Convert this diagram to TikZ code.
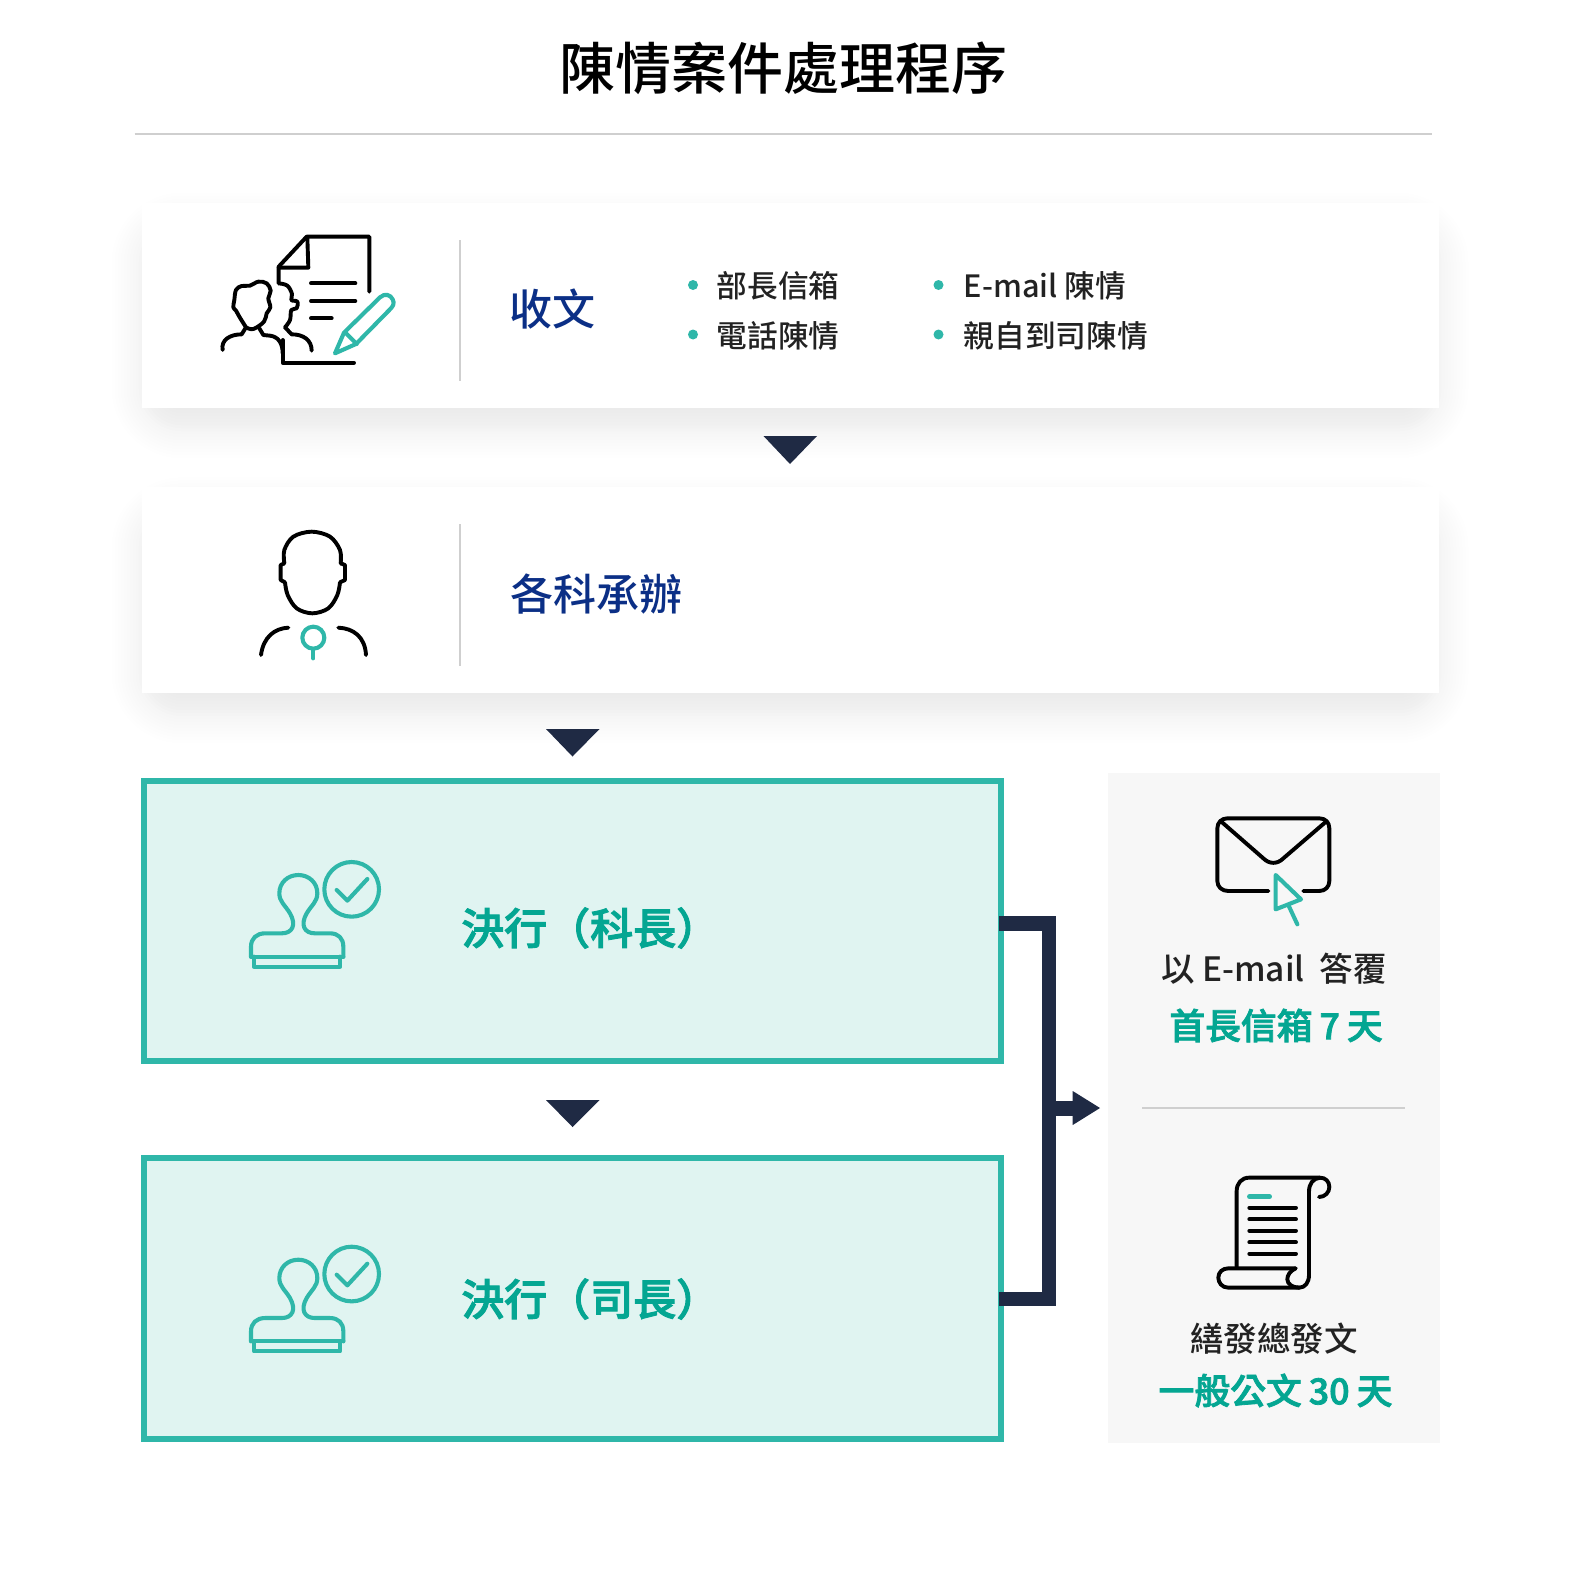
\documentclass[tikz,border=0pt]{standalone}
\usepackage{fontspec}
\setmainfont{Noto Sans CJK TC}
\newfontfamily\cjkmed{Noto Sans CJK TC Medium}
\newfontfamily\cjkmb[FakeBold=2.2]{Noto Sans CJK TC Medium}
\usetikzlibrary{calc}
\definecolor{teal1}{HTML}{2FB7A9}
\definecolor{tealtxt}{HTML}{04A692}
\definecolor{greenfill}{HTML}{E0F4F1}
\definecolor{navy}{HTML}{0B2F86}
\definecolor{darkc}{HTML}{1F2A44}
\definecolor{rulec}{HTML}{CFCFCF}
\definecolor{panelc}{HTML}{F7F7F7}
\definecolor{txtc}{HTML}{222222}
\newcommand{\fs}[1]{\fontsize{#1pt}{#1pt}\selectfont}
\newcommand{\nsp}{\hspace{7pt}}
\tikzset{
  zoomed/.style 2 args={shift={(#1pt,-#2pt)},x=.33333pt,y=-.33333pt},
  card/.style={fill=white,inner sep=0,outer sep=0,minimum width=1296.8pt,minimum height=205.7pt,anchor=north west},
  greenbox/.style={draw=teal1,fill=greenfill,line width=6pt,inner sep=0,outer sep=0,minimum width=856.5pt,minimum height=280pt,anchor=north west},
  panel/.style={fill=panelc,inner sep=0,outer sep=0,minimum width=332pt,minimum height=670pt,anchor=north west},
  blk/.style={draw=black,line width=3.9pt,line cap=round,line join=round},
  tl/.style={draw=teal1,line width=4.1pt,line cap=round,line join=round},
  hrule/.style={draw=rulec,line width=1.4pt},
  tri/.style={fill=darkc},
  dot/.style={circle,fill=teal1,inner sep=0,minimum size=10pt},
  item/.style={anchor=west,inner sep=0,text=txtc,font=\cjkmed\fs{30.7}},
  heading/.style={anchor=west,inner sep=0,text=navy,font=\cjkmed\fs{43}},
  dec/.style={anchor=west,inner sep=0,text=tealtxt,font=\cjkmb\fs{43}},
  ptxt/.style={anchor=center,inner sep=0,text=txtc,font=\cjkmed\fs{33.5}},
  pem/.style={anchor=center,inner sep=0,text=tealtxt,font=\cjkmb\fs{35.8}},
}
\newcommand{\cardshadow}[4]{% x1,y1,x2,y2
  \foreach \i [evaluate=\i as \op using {.0065*(1-abs(\i)/45)}, evaluate=\i as \rr using {\i+40}] in {-36,-33,...,42}{
    \fill[black,opacity=\op,rounded corners=\rr pt]
      (#1-\i,#2+20-\i) rectangle (#3+\i,#4+20+\i);
  }}
\newcommand{\stampicon}[2]{%
  \begin{scope}[zoomed={#1}{#2}]
    \draw[tl] (350,118) circle (82);
    \draw[tl] (305,120)--(337,152)--(397,87);
    \draw[tl] (57,320)--(57,350)--(315,350)--(315,320);
    \draw[tl] (48,320)--(325,320);
    \draw[tl] (48,320)--(48,290) .. controls (48,265) and (65,250) .. (90,250)
      -- (140,250) .. controls (172,250) and (185,225) .. (165,190)
      .. controls (150,165) and (133,155) .. (133,130)
      .. controls (133,98) and (158,75) .. (190,75)
      .. controls (222,75) and (247,98) .. (247,130)
      .. controls (247,155) and (230,165) .. (215,190)
      .. controls (195,225) and (208,250) .. (240,250)
      -- (285,250) .. controls (310,250) and (325,265) .. (325,290) -- (325,320);
  \end{scope}}
\begin{document}
\begin{tikzpicture}[x=1pt,y=-1pt]
\fill[white] (0,0) rectangle (1575,1579);
\useasboundingbox (0,0) rectangle (1575,1579);

\node[anchor=center,inner sep=0,text=black,font=\cjkmed\fs{56}] (title) at (783.5,68.5) {陳情案件處理程序};
\coordinate (ruleL) at (134.5,134); \coordinate (ruleR) at (1432,134);
\draw[hrule] (ruleL) -- (ruleR);

\cardshadow{141.7}{202.7}{1438.5}{408.3}
\cardshadow{141.7}{487.4}{1438.5}{693.2}
\node[card] (card1) at (141.7,202.7) {};
\node[card] (card2) at (141.7,487.4) {};
\draw[hrule] (460,240) -- (460,381);
\draw[hrule] (460,524) -- (460,666);

% card 1 icon
\begin{scope}[zoomed={200}{220}]
  \draw[blk] (236,190)--(236,140)--(320,50)--(508,50)--(508,215);
  \draw[blk] (322,52)--(325,143)--(236,143);
  \draw[blk] (333,190)--(466,190);
  \draw[blk] (333,243)--(466,243);
  \draw[blk] (333,295)--(395,295);
  \draw[blk] (248,360)--(248,428)--(462,428);
  \draw[blk] (68,390) .. controls (62,360) and (90,343) .. (125,343) -- (138,322);
  \draw[blk] plot[smooth,tension=.6] coordinates {(138,322)(118,290)(108,272)(100,262)(103,240)(108,210)(125,198)(150,197)(175,185)(200,190)(212,212)(205,235)(211,262)(200,280)(192,305)(160,327)(138,322)};
  \draw[blk] (178,325)--(190,345) -- (210,347) .. controls (235,350) and (248,370) .. (248,400);
  \draw[blk] plot[smooth,tension=.6] coordinates {(236,190)(262,197)(276,222)(274,240)(292,245)(290,265)(274,270)(270,300)(255,322)};
  \draw[blk] (255,322)--(275,343) .. controls (310,343) and (335,360) .. (335,392);
  \draw[tl] (405,400)--(432,338)--(540,232) .. controls (555,218) and (572,225) .. (578,238) .. controls (584,250) and (580,258) .. (570,268)--(468,372)--cycle;
  \draw[tl] (436,338)--(470,372);
\end{scope}

\node[heading] (h1) at (509,309) {收文};
\node[dot] (d1) at (693,285) {}; \node[item] (t1) at (716.5,286) {部長信箱};
\node[dot] (d2) at (693,334.5) {}; \node[item] (t2) at (716.5,336) {電話陳情};
\node[dot] (d3) at (938.5,285) {}; \node[item] (t3) at (963.5,286) {E-mail 陳情};
\node[dot] (d4) at (938.5,334.5) {}; \node[item] (t4) at (963.5,336) {親自到司陳情};

% card 2 icon
\begin{scope}[zoomed={240}{520}]
  \draw[blk] plot[smooth,tension=.55] coordinates {(133,130)(133,90)(160,50)(215,35)(270,50)(300,90)(302,130)};
  \draw[blk] (302,130)--(315,135)--(315,180)--(300,187);
  \draw[blk] plot[smooth,tension=.55] coordinates {(300,187)(292,225)(265,265)(217,280)(170,265)(143,225)(135,187)};
  \draw[blk] (135,187)--(122,180)--(122,135)--(133,130);
  \draw[blk] (63,405) .. controls (70,350) and (105,325) .. (145,323);
  \draw[blk] (295,323) .. controls (340,325) and (375,350) .. (378,405);
  \draw[tl] (220,353) circle (33);
  \draw[tl] (220,388)--(220,415);
\end{scope}
\node[heading] (h2) at (510,594) {各科承辦};

% triangles
\fill[tri] (763.5,436) -- (817,436) -- (790,464) -- cycle;
\fill[tri] (546,729) -- (599.5,729) -- (572.5,756.5) -- cycle;
\fill[tri] (546,1100) -- (599.5,1100) -- (572.5,1127) -- cycle;

% green boxes
\node[greenbox] (g1) at (144,781) {};
\node[greenbox,minimum height=281pt] (g2) at (144,1158) {};
\stampicon{235}{850}
\stampicon{235}{1234.7}
\node[dec] (d1t) at (461,928) {決行（科長）};
\node[dec] (d2t) at (461,1299) {決行（司長）};

% right panel
\node[panel] (pn) at (1108,773) {};
\draw[draw=rulec,line width=1.2pt] (1142,1108) -- (1405,1108);
\begin{scope}[zoomed={1200}{805}]
  \draw[blk] (205,258)--(85,258) .. controls (65,258) and (52,245) .. (52,228) -- (52,70) .. controls (52,52) and (65,40) .. (82,40) -- (358,40) .. controls (376,40) and (388,52) .. (388,70) -- (388,228) .. controls (388,245) and (376,258) .. (358,258) -- (310,258);
  \draw[blk] (64,50)--(190,160) .. controls (208,178) and (232,178) .. (250,160) -- (378,50);
  \draw[tl] (227,210)--(303,283)--(227,313)--cycle;
  \draw[tl] (265,300)--(292,358);
\end{scope}
\begin{scope}[zoomed={1205}{1165}]
  \draw[blk] (95,305)--(95,78) .. controls (95,55) and (110,38) .. (132,38) -- (345,38) .. controls (362,38) and (373,50) .. (373,66) .. controls (373,82) and (360,96) .. (342,96);
  \draw[blk] (345,38) .. controls (325,40) and (312,55) .. (312,80) -- (312,330) .. controls (312,352) and (300,368) .. (283,368) -- (70,368) .. controls (50,368) and (40,352) .. (40,338) .. controls (40,322) and (52,310) .. (70,310) -- (272,310);
  \draw[blk] (272,310) .. controls (255,318) and (247,330) .. (247,343) .. controls (247,357) and (262,368) .. (283,368);
  \foreach \yy in {128,163,197,232,266}{ \draw[blk] (133,\yy)--(273,\yy); }
  \draw[tl,line width=4.6pt] (133,95)--(194,95);
\end{scope}
\node[ptxt] (p1) at (1274,969) {以 E-mail~~答覆};
\node[pem] (p2) at (1276,1025.5) {首長信箱\nsp 7\nsp 天};
\node[ptxt] (p3) at (1274,1338.5) {繕發總發文};
\node[pem] (p4) at (1275.5,1390.5) {一般公文\nsp 30\nsp 天};

% connector
\coordinate (c1) at ($(g1.east)+(-1.5,2.3)$);
\coordinate (c2) at ($(g2.east |- 0,1299)+(-1.5,0)$);
\coordinate (busT) at (1049,923.3);
\coordinate (busB) at (1049,1299);
\coordinate (tip) at (1100,1108);
\coordinate (stubS) at (1042,1108);
\coordinate (stubE) at (1073,1108);
\draw[darkc,line width=14.6pt,line join=miter] (c1) -- (busT) -- (busB) -- (c2);
\draw[darkc,line width=15pt] (stubS) -- (stubE);
\fill[darkc] (1072.7,1091) -- (tip) -- (1072.7,1125) -- cycle;
\end{tikzpicture}
\end{document}
